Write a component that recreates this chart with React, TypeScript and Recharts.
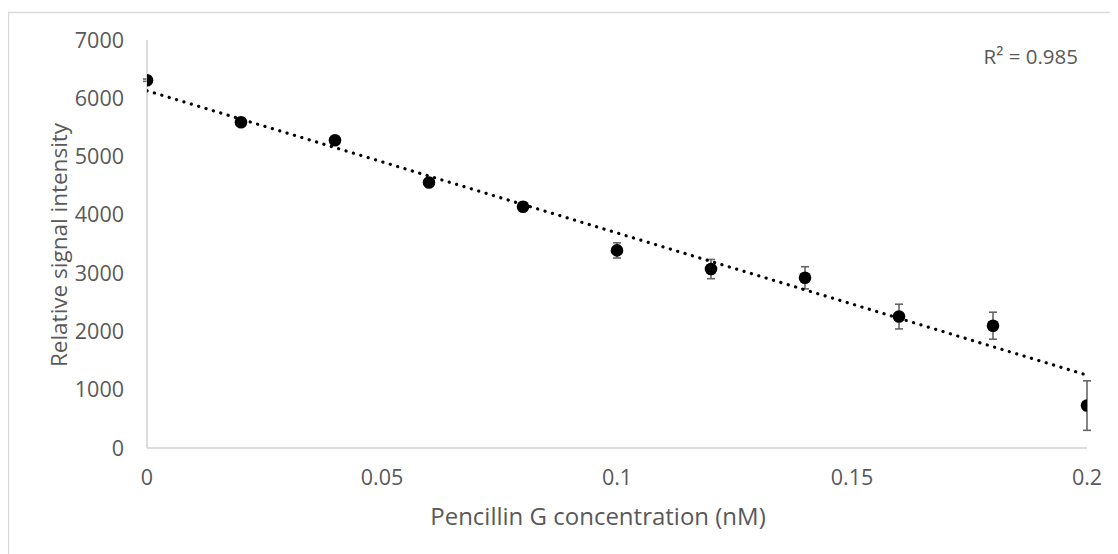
import React from 'react';
import { ScatterChart, Scatter, XAxis, YAxis, ErrorBar, Label } from 'recharts';

const concentrations = [0, 0.02, 0.04, 0.06, 0.08, 0.1, 0.12, 0.14, 0.16, 0.18, 0.2];
const intensities = [6310, 5590, 5280, 4555, 4140, 3390, 3070, 2920, 2255, 2098, 728];
const errors = [20, 35, 40, 55, 75, 130, 165, 190, 212, 232, 425];
const trendX = [0, 0.2];
const trendY = [6130, 1250];
const xTicks = [0, 0.05, 0.1, 0.15, 0.2];
const yTicks = [0, 1000, 2000, 3000, 4000, 5000, 6000, 7000];
const xTitle = 'Pencillin G concentration (nM)';
const yTitle = 'Relative signal intensity';
const r2Label = 'R² = 0.985';

const points = concentrations.map((x, i) => ({ x, y: intensities[i], err: errors[i] }));
const trend = trendX.map((x, i) => ({ x, y: trendY[i] }));

const FONT = '"Open Sans", sans-serif';
const TICK_FS = 21.5;
const X_TITLE_FS = 24;
const Y_TITLE_FS = 22.5;
const TEXT = '#595959';
const AXIS = '#d0d0d0';

const Dot = (props: any) => {
  const { cx, cy } = props;
  if (cx == null || cy == null) return <g />;
  return <circle cx={cx} cy={cy} r={6.3} fill="#000" />;
};

export default function App() {
  return (
    <div style={{ position: 'relative', width: 1110, height: 546, fontFamily: FONT }}>
      <ScatterChart
        width={1110}
        height={546}
        margin={{ top: 32, right: 31, bottom: 0, left: 0 }}
        style={{ fontFamily: FONT }}
      >
        <rect x={0.5} y={4.5} width={1200} height={700} fill="#fff" stroke="#d9d9d9" strokeWidth={1.5} />
        <XAxis
          type="number"
          dataKey="x"
          domain={[0, 0.2]}
          ticks={xTicks}
          interval={0}
          height={106}
          axisLine={{ stroke: AXIS, strokeWidth: 1.5 }}
          tickLine={false}
          tickSize={8}
          tickMargin={14}
          tick={{ fill: TEXT, fontSize: TICK_FS, fontFamily: FONT }}
          allowDataOverflow
        >
          <Label
            content={({ viewBox }: any) => (
              <text
                x={viewBox.x + viewBox.width / 2 - 19}
                y={viewBox.y + 67}
                textAnchor="middle"
                dominantBaseline="central"
                fill={TEXT}
                fontSize={X_TITLE_FS}
                fontFamily={FONT}
              >
                {xTitle}
              </text>
            )}
          />
        </XAxis>
        <YAxis
          type="number"
          dataKey="y"
          domain={[0, 7000]}
          ticks={yTicks}
          interval={0}
          width={139}
          axisLine={{ stroke: AXIS, strokeWidth: 1.5 }}
          tickLine={false}
          tickSize={8}
          tickMargin={15}
          tick={{ fill: TEXT, fontSize: TICK_FS, fontFamily: FONT }}
          allowDataOverflow
        >
          <Label
            content={({ viewBox }: any) => {
              const cx = viewBox.x + 50;
              const cy = viewBox.y + viewBox.height / 2 + 1;
              return (
                <text
                  x={cx}
                  y={cy}
                  transform={`rotate(-90, ${cx}, ${cy})`}
                  textAnchor="middle"
                  dominantBaseline="central"
                  fill={TEXT}
                  fontSize={Y_TITLE_FS}
                  fontFamily={FONT}
                >
                  {yTitle}
                </text>
              );
            }}
          />
        </YAxis>
        <Scatter
          data={trend}
          line={{ stroke: '#000', strokeWidth: 3.2, strokeDasharray: '0.1 7.6', strokeLinecap: 'round' }}
          shape={() => <g />}
          isAnimationActive={false}
          legendType="none"
        />
        <Scatter data={points} shape={() => <g />} isAnimationActive={false} legendType="none">
          <ErrorBar dataKey="err" direction="y" width={4} stroke="#666" strokeWidth={1.6} />
        </Scatter>
        <Scatter data={points} shape={Dot} isAnimationActive={false} />
        <text x={1070} y={48} textAnchor="end" dominantBaseline="central" fill={TEXT} fontSize={20.5} fontFamily={FONT}>
          {r2Label}
        </text>
      </ScatterChart>
    </div>
  );
}
